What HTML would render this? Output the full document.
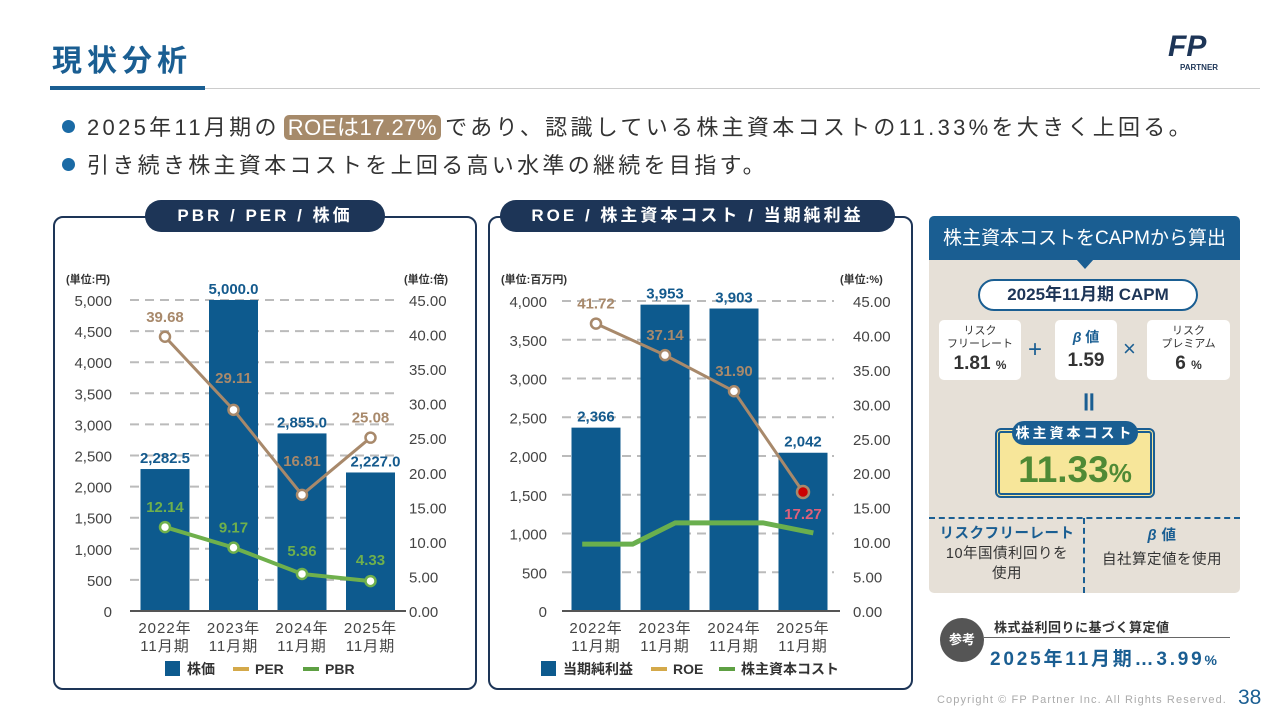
<!DOCTYPE html>
<html><head><meta charset="utf-8">
<style>
*{margin:0;padding:0;box-sizing:border-box}
body{width:1280px;height:720px;background:#fff;position:relative;overflow:hidden;font-family:"Liberation Sans","Noto Sans CJK JP",sans-serif;color:#333}
.abs{position:absolute}
.title{left:52px;top:36px;font-size:30px;font-weight:bold;color:#1a5e92;letter-spacing:5px}
.bul{left:62px;font-size:22px;color:#333;letter-spacing:3.3px;white-space:nowrap}
.bul .dot{display:inline-block;width:13px;height:13px;border-radius:50%;background:#1a6aa5;margin-right:12px;vertical-align:2px}
.hl{background:#a68a6a;color:#fff;border-radius:5px;padding:0 4px;margin:0 4px;letter-spacing:0.5px}
.panel{border:2px solid #1d3557;border-radius:10px}
.pill{background:#1d3557;color:#fff;font-weight:bold;font-size:17px;letter-spacing:3px;border-radius:16px;text-align:center;line-height:32px}
</style></head><body>
<div class="abs title">現状分析</div>
<div class="abs" style="left:50px;top:86px;width:155px;height:4px;background:#1a5e92"></div>
<div class="abs" style="left:205px;top:88px;width:1055px;height:1px;background:#ccc"></div>
<div class="abs" style="left:1168px;top:30px;width:62px;height:38px;font-style:italic;font-weight:bold;font-size:30px;color:#1d3557;line-height:34px">FP<div style="font-size:8px;font-style:normal;line-height:8px;margin-left:12px">PARTNER</div></div>
<div class="abs bul" style="top:110px"><span class="dot"></span>2025年11月期の<span class="hl">ROEは17.27%</span>であり、認識している株主資本コストの11.33%を大きく上回る。</div>
<div class="abs bul" style="top:148px"><span class="dot"></span>引き続き株主資本コストを上回る高い水準の継続を目指す。</div>

<div class="abs panel" style="left:53px;top:216px;width:424px;height:474px"></div>
<div class="abs pill" style="left:145px;top:200px;width:240px">PBR / PER / 株価</div>
<div class="abs panel" style="left:488px;top:216px;width:425px;height:474px"></div>
<div class="abs pill" style="left:500px;top:200px;width:395px">ROE / 株主資本コスト / 当期純利益</div>

<svg class="abs" style="left:0;top:0" width="1280" height="720" id="charts"></svg>

<!-- CAPM panel -->
<div class="abs" style="left:929px;top:216px;width:311px;height:377px;background:#e6e0d7;border-radius:5px"></div>
<div class="abs" style="left:929px;top:216px;width:311px;height:44px;background:#1a5e92;border-radius:5px 5px 0 0;color:#fff;font-size:19px;text-align:center;line-height:46px">株主資本コストをCAPMから算出</div>
<div class="abs" style="left:1076px;top:259px;width:0;height:0;border-left:9px solid transparent;border-right:9px solid transparent;border-top:10px solid #1a5e92"></div>
<div class="abs" style="left:978px;top:279px;width:220px;height:32px;background:#fff;border:2px solid #1a5e92;border-radius:16px;text-align:center;font-weight:bold;font-size:17px;color:#1d3557;line-height:28px">2025年11月期 CAPM</div>
<div class="abs" style="left:939px;top:320px;width:82px;height:60px;background:#fff;border-radius:5px;text-align:center;font-size:11px;color:#333;line-height:13px;padding-top:5px">リスク<br>フリーレート<div style="font-size:19px;font-weight:bold;line-height:26px">1.81 <span style="font-size:12px">%</span></div></div>
<div class="abs" style="left:1028px;top:336px;font-size:24px;color:#1a5e92">+</div>
<div class="abs" style="left:1055px;top:320px;width:62px;height:60px;background:#fff;border-radius:5px;text-align:center;font-size:14px;color:#1a5e92;font-weight:bold;line-height:20px;padding-top:7px"><i>β</i> 値<div style="font-size:19px;color:#333;line-height:28px">1.59</div></div>
<div class="abs" style="left:1123px;top:336px;font-size:22px;color:#1a5e92">×</div>
<div class="abs" style="left:1147px;top:320px;width:83px;height:60px;background:#fff;border-radius:5px;text-align:center;font-size:11px;color:#333;line-height:13px;padding-top:5px">リスク<br>プレミアム<div style="font-size:19px;font-weight:bold;line-height:26px">6 <span style="font-size:12px">%</span></div></div>
<div class="abs" style="left:1080px;top:382px;font-size:26px;font-weight:bold;color:#1a5e92">॥</div>
<div class="abs" style="left:995px;top:428px;width:160px;height:70px;border:5px double #1a5e92;background:#f7e69a;border-radius:6px;text-align:center;font-size:37px;font-weight:bold;color:#4f8a35;line-height:70px;padding-top:2px">11.33<span style="font-size:26px">%</span></div>
<div class="abs" style="left:1012px;top:421px;width:126px;height:24px;background:#1a5e92;color:#fff;border-radius:12px;text-align:center;font-weight:bold;font-size:14px;letter-spacing:3px;line-height:24px">株主資本コスト</div>
<div class="abs" style="left:929px;top:517px;width:311px;border-top:2px dashed #1a5e92"></div>
<div class="abs" style="left:1083px;top:518px;height:75px;border-left:2px dashed #1a5e92"></div>
<div class="abs" style="left:933px;top:524px;width:148px;text-align:center;font-size:14.5px;line-height:20px;color:#333;letter-spacing:0.5px"><b style="color:#1a5e92">リスクフリーレート</b><br>10年国債利回りを<br>使用</div>
<div class="abs" style="left:1086px;top:524px;width:152px;text-align:center;font-size:14.5px;line-height:24px;color:#333;letter-spacing:0.5px"><b style="color:#1a5e92"><i>β</i> 値</b><br>自社算定値を使用</div>
<div class="abs" style="left:940px;top:618px;width:44px;height:44px;border-radius:50%;background:#555;color:#fff;font-weight:bold;font-size:13px;text-align:center;line-height:44px">参考</div>
<div class="abs" style="left:994px;top:617px;font-size:13px;font-weight:bold;color:#333;letter-spacing:0.5px">株式益利回りに基づく算定値</div>
<div class="abs" style="left:984px;top:637px;width:246px;height:1px;background:#666"></div>
<div class="abs" style="left:990px;top:644px;font-size:19px;font-weight:bold;color:#1a5e92;letter-spacing:2.8px">2025年11月期…3.99<span style="font-size:14px">%</span></div>
<div class="abs" style="left:937px;top:694px;font-size:11px;color:#aaa;letter-spacing:1.1px">Copyright © FP Partner Inc. All Rights Reserved.</div>
<div class="abs" style="left:1238px;top:686px;font-size:21px;color:#1a5e92">38</div>

<script>
const categories=["2022年","2023年","2024年","2025年"];
const prices=[2282.5,5000.0,2855.0,2227.0];
const per=[39.68,29.11,16.81,25.08];
const pbr=[12.14,9.17,5.36,4.33];
const leftTicks1=[0,500,1000,1500,2000,2500,3000,3500,4000,4500,5000];
const rightTicks1=[0,5,10,15,20,25,30,35,40,45];
const profit=[2366,3953,3903,2042];
const roe=[41.72,37.14,31.90,17.27];
const costIdx=[-0.2,0.53,1.15,2.42,3.15];
const costVal=[9.7,9.7,12.8,12.8,11.33];
const leftTicks2=[0,500,1000,1500,2000,2500,3000,3500,4000];
const rightTicks2=[0,5,10,15,20,25,30,35,40,45];

const svg=document.getElementById('charts');
const NS='http://www.w3.org/2000/svg';
function mk(tag,attrs,parent){const e=document.createElementNS(NS,tag);for(const k in attrs)e.setAttribute(k,attrs[k]);(parent||svg).appendChild(e);return e;}
function txt(s,x,y,attrs){const e=mk('text',Object.assign({x:x,y:y,'font-family':'Liberation Sans, Noto Sans CJK JP, sans-serif'},attrs));e.textContent=s;return e;}
const fmt=(v,d)=>v.toLocaleString('en-US',{minimumFractionDigits:d,maximumFractionDigits:d});

function chart(o){
  const yL=v=>o.y0-(v/o.lmax)*(o.y0-o.ytop);
  const yR=v=>o.y0-(v/45)*(o.y0-o.ytop);
  const xC=i=>o.x0+i*o.step;
  const g=mk('g',{});
  
  
  o.lt.forEach(t=>{
    if(t>0){const l=mk('line',{x1:o.ax1,x2:o.ax2,y1:yL(t),y2:yL(t),stroke:'#bbb','stroke-width':2,'stroke-dasharray':'9,6'},g);
    }
    const e=txt(t.toLocaleString('en-US'),o.lx,yL(t)+6,{'font-size':15,fill:'#444','text-anchor':'end'});
    
  });
  o.rt.forEach(t=>{const e=txt(t.toFixed(2),o.rx,yR(t)+6,{'font-size':15,fill:'#444'});
    });
  txt(o.lunit,o.lux,283,{'font-size':11,fill:'#333','font-weight':'bold'});
  txt(o.runit,o.rux,283,{'font-size':11,fill:'#333','font-weight':'bold'});
  o.bars.forEach((v,i)=>{
    const b=mk('rect',{x:xC(i)-24.5,y:yL(v),width:49,height:o.y0-yL(v),fill:'#0d5a8e'},g);
    
    const t=txt(fmt(v,o.bd),xC(i)+(i==3&&o.bd?5:0),yL(v)-6,{'font-size':15,'font-weight':'bold',fill:'#145a8d','text-anchor':'middle'});
    
    const c1=txt(categories[i],xC(i),633,{'font-size':15,fill:'#444','text-anchor':'middle','letter-spacing':1});
    
    const c2=txt('11月期',xC(i),651,{'font-size':15,fill:'#444','text-anchor':'middle','letter-spacing':1});
    
  });
  const ax=mk('line',{x1:o.ax1,x2:o.ax2+6,y1:o.y0,y2:o.y0,stroke:'#555','stroke-width':2},g);
  
  o.lines.forEach(L=>{
    const xs=L.idx?L.idx.map(xC):L.vals.map((v,i)=>xC(i));
    const pts=L.vals.map((v,i)=>xs[i]+','+yR(v)).join(' ');
    const pl=mk('polyline',{points:pts,fill:'none',stroke:L.color,'stroke-width':L.w},g);
    
    if(!L.dots)return;
    L.vals.forEach((v,i)=>{
      const red=L.redLast&&i==3;
      const c=mk('circle',{cx:xs[i],cy:yR(v),r:red?6:5,fill:red?'#c00':'#fff',stroke:L.color,'stroke-width':2.5},g);
      
      const off=L.off[i];
      const t=txt(v.toFixed(2),xs[i],yR(v)+off,{'font-size':15,'font-weight':'bold',fill:red?'#e0607a':L.tcolor,'text-anchor':'middle'});
      
    });
  });
  let lx=o.legx;
  o.legend.forEach(it=>{
    if(it.bar){const r=mk('rect',{x:lx,y:661,width:15,height:15,fill:'#0d5a8e'});}
    else{const r=mk('rect',{x:lx,y:667,width:16,height:4,fill:it.color});}
    const t=txt(it.label,lx+22,674,{'font-size':14,'font-weight':'bold',fill:'#333'});
    
    lx+=it.w;
  });
}
chart({name:'pbr-per-chart',y0:611,ytop:300,lmax:5000,x0:165,step:68.5,ax1:130,ax2:400,lx:112,rx:409,lunit:'(単位:円)',lux:66,runit:'(単位:倍)',rux:404,
  lt:leftTicks1,rt:rightTicks1,bars:prices,bd:1,
  lines:[{name:'per',vals:per,color:'#a8896b',tcolor:'#a8896b',w:3,dots:true,off:[-15,-27,-29,-15]},
         {name:'pbr',vals:pbr,color:'#6fb04c',tcolor:'#6fb04c',w:4,dots:true,off:[-15,-15,-18,-16]}],
  legx:165,legend:[{bar:1,label:'株価',w:68},{color:'#d4a94a',label:'PER',w:70},{color:'#5ea043',label:'PBR',w:60}]});
chart({name:'roe-chart',y0:611,ytop:301,lmax:4000,x0:596,step:69,ax1:562,ax2:834,lx:547,rx:853,lunit:'(単位:百万円)',lux:501,runit:'(単位:%)',rux:840,
  lt:leftTicks2,rt:rightTicks2,bars:profit,bd:0,
  lines:[{name:'cost',idx:costIdx,vals:costVal,color:'#6aaf4e',w:5,dots:false},
         {name:'roe',vals:roe,color:'#a8896b',tcolor:'#a8896b',w:3,dots:true,redLast:true,off:[-15,-15,-15,27]}],
  legx:541,legend:[{bar:1,label:'当期純利益',w:110},{color:'#d4a94a',label:'ROE',w:68},{color:'#5ea043',label:'株主資本コスト',w:100}]});
</script>
</body></html>
